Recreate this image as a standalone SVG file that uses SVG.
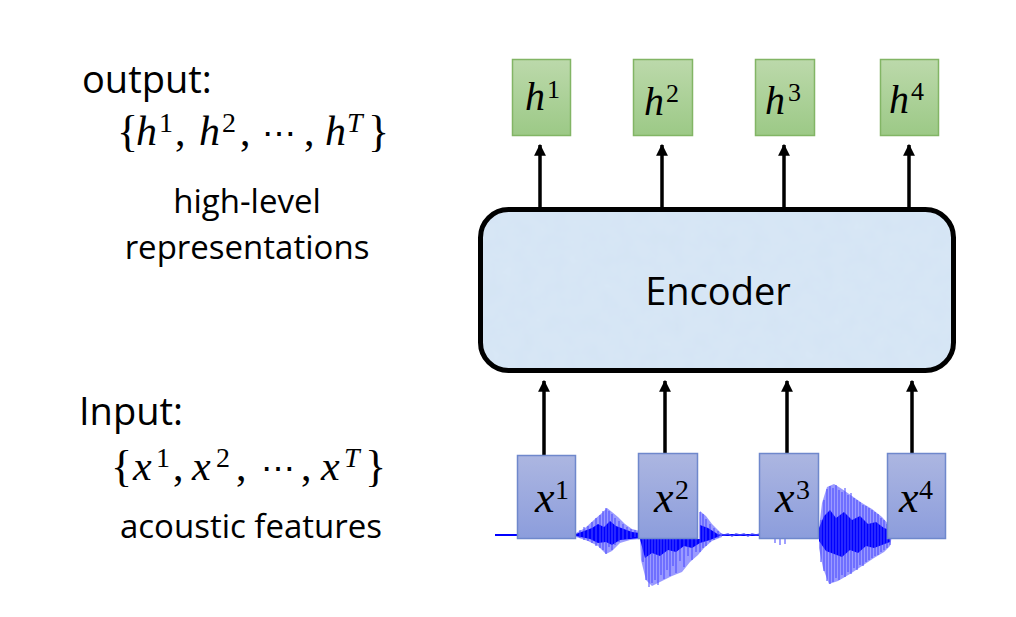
<svg xmlns="http://www.w3.org/2000/svg" width="1016" height="617" viewBox="0 0 1016 617">
<style>
.lbl{font-family:"Open Sans","Liberation Sans",sans-serif;fill:#000}
.m{font-family:"Liberation Serif","DejaVu Serif",serif;fill:#000}
.mi{font-family:"Liberation Serif","DejaVu Serif",serif;font-style:italic;fill:#000}
.hb{fill:url(#gG);stroke:#82b565;stroke-width:1.5}
.xb{fill:url(#gB);stroke:#6f88cc;stroke-width:1.5}
.conn{stroke:#000;stroke-width:3.5;fill:none}
</style>
<defs>
<linearGradient id="gG" x1="0" y1="0" x2="0" y2="1"><stop offset="0" stop-color="#bcd9ab"/><stop offset="1" stop-color="#9cc986"/></linearGradient>
<linearGradient id="gB" x1="0" y1="0" x2="0" y2="1"><stop offset="0" stop-color="#acb6e1"/><stop offset="1" stop-color="#8c9ddc"/></linearGradient>
<marker id="ah" viewBox="0 0 10 10" refX="9" refY="5" markerWidth="3.4" markerHeight="3.4" orient="auto" markerUnits="strokeWidth"><path d="M0,0 L10,5 L0,10 z" fill="#000"/></marker>
<filter id="tex" x="0" y="0" width="1" height="1"><feTurbulence type="fractalNoise" baseFrequency="0.06" numOctaves="3" seed="4"/><feColorMatrix type="matrix" values="0 0 0 0 0.75  0 0 0 0 0.85  0 0 0 0 0.95  0 0 0 0.35 0"/></filter>
<clipPath id="encClip"><rect x="480.5" y="209.5" width="473" height="161" rx="28"/></clipPath>
</defs>
<rect width="1016" height="617" fill="#fff"/>

<g id="left-text">
<text class="lbl" x="82" y="93" font-size="38">output:</text>
<text class="m" x="117" y="146" font-size="44">{</text>
<text class="mi" x="136" y="145" font-size="42">h</text><text class="m" x="159" y="132" font-size="28">1</text>
<text class="m" x="175" y="145" font-size="42">,</text>
<text class="mi" x="199" y="145" font-size="42">h</text><text class="m" x="222" y="132" font-size="28">2</text>
<text class="m" x="240" y="145" font-size="42">,</text>
<text class="m" x="262" y="145" font-size="34">⋯</text>
<text class="m" x="304" y="145" font-size="42">,</text>
<text class="mi" x="325" y="145" font-size="42">h</text><text class="mi" x="347" y="132" font-size="28">T</text>
<text class="m" x="368" y="146" font-size="44">}</text>
<text class="lbl" x="247" y="213" font-size="33" text-anchor="middle">high-level</text>
<text class="lbl" x="247" y="259" font-size="33" text-anchor="middle">representations</text>

<text class="lbl" x="79" y="425" font-size="38">Input:</text>
<text class="m" x="111" y="481" font-size="44">{</text>
<text class="mi" x="133" y="480" font-size="42">x</text><text class="m" x="156" y="467" font-size="28">1</text>
<text class="m" x="173" y="480" font-size="42">,</text>
<text class="mi" x="192" y="480" font-size="42">x</text><text class="m" x="216" y="467" font-size="28">2</text>
<text class="m" x="236" y="480" font-size="42">,</text>
<text class="m" x="261" y="480" font-size="34">⋯</text>
<text class="m" x="301" y="480" font-size="42">,</text>
<text class="mi" x="321" y="480" font-size="42">x</text><text class="mi" x="344" y="467" font-size="28">T</text>
<text class="m" x="365" y="481" font-size="44">}</text>
<text class="lbl" x="251" y="538" font-size="33" text-anchor="middle">acoustic features</text>
</g>

<g id="waveform">
<path d="M495,535 H520 M715,535 H765" stroke="#0000ff" stroke-width="2" fill="none"/>
<path d="M720,534 l4,1 l4,-1 l4,2 l4,-2 l4,1 l4,-1 l4,2 l4,-2 l4,1 l4,-1 l6,1" stroke="#3b3bff" stroke-width="1.5" fill="none"/>
<polygon fill="#6f6fff" opacity="0.7" points="576,533 585,528 595,519 603,512 607,508 612,512 618,517 625,524 632,529 640,531 640,539 630,540 620,543 612,551 606,554 598,546 588,541 576,537"/>
<polygon fill="#0000ff" points="576,534 584,531 592,528 598,524 604,527 610,521 616,526 624,529 632,532 640,533 640,538 630,539 620,540 612,545 606,542 598,543 590,539 576,536"/>
<polygon fill="#6f6fff" opacity="0.7" points="640,539 700,539 700,511 706,516 712,524 718,530 722,534 722,537 712,541 704,548 698,555 690,562 682,572 672,576 660,582 652,586 646,580 641,560"/>
<polygon fill="#0000ff" points="640,539 700,539 700,525 708,528 716,533 720,536 710,540 700,543 692,548 684,546 676,552 668,550 660,556 652,553 645,558"/>
<polygon fill="#6f6fff" opacity="0.7" points="819,528 822,503 827,487 834,484 842,489 852,496 862,503 872,509 882,517 890,526 892,536 890,546 884,552 874,558 862,566 850,574 838,581 829,584 823,568 819,548"/>
<polygon fill="#0000ff" points="819,528 824,516 830,510 836,518 844,512 852,520 860,516 868,524 876,522 884,528 890,530 890,542 882,545 874,548 866,546 858,553 850,550 842,557 834,554 826,551 819,541"/>
<path stroke="#4a4aff" stroke-width="1.3" fill="none" opacity="0.8" d="M580,530V538 M584,527V540 M588,526V541 M592,522V543 M596,518V546 M600,515V548 M603,511V550 M606,508V554 M609,511V547 M612,514V550 M615,518V545 M619,521V542 M623,524V540 M627,527V539 M631,529V538 M635,530V537 M643,539V562 M646,539V580 M649,539V587 M652,539V583 M655,539V580 M658,539V585 M661,539V575 M664,539V579 M667,539V570 M670,539V576 M673,539V566 M676,539V573 M680,539V561 M684,539V567 M688,539V556 M692,539V560 M696,539V552 M700,512V552 M703,514V548 M706,519V546 M710,524V542 M714,528V540 M718,531V538 M775,539V543 M780,539V545 M785,539V544 M821,520V562 M824,500V571 M827,489V581 M830,486V584 M833,488V582 M836,485V578 M839,490V580 M842,492V575 M845,488V577 M848,495V572 M851,493V574 M854,498V568 M857,500V570 M860,502V565 M863,505V566 M866,506V562 M869,508V560 M872,510V558 M875,512V556 M878,514V555 M881,518V552 M884,520V550 M887,524V548 M890,527V545"/>
</g>

<g id="connectors">
<line class="conn" x1="540" y1="207" x2="540" y2="145" marker-end="url(#ah)"/>
<line class="conn" x1="662" y1="207" x2="662" y2="145" marker-end="url(#ah)"/>
<line class="conn" x1="784" y1="207" x2="784" y2="145" marker-end="url(#ah)"/>
<line class="conn" x1="909" y1="207" x2="909" y2="145" marker-end="url(#ah)"/>
<line class="conn" x1="544" y1="455" x2="544" y2="381" marker-end="url(#ah)"/>
<line class="conn" x1="665" y1="453" x2="665" y2="381" marker-end="url(#ah)"/>
<line class="conn" x1="787" y1="453" x2="787" y2="381" marker-end="url(#ah)"/>
<line class="conn" x1="912" y1="453" x2="912" y2="381" marker-end="url(#ah)"/>
</g>

<g id="encoder">
<rect x="480.5" y="209.5" width="473" height="161" rx="28" fill="#d4e4f4"/>
<rect x="480.5" y="209.5" width="473" height="161" filter="url(#tex)" clip-path="url(#encClip)"/>
<rect x="480.5" y="209.5" width="473" height="161" rx="28" fill="none" stroke="#000" stroke-width="5"/>
<text class="lbl" x="718" y="305" font-size="38" text-anchor="middle">Encoder</text>
</g>

<g id="h1"><rect class="hb" x="512.5" y="59.5" width="58" height="76"/><text class="mi" x="525" y="110" font-size="40">h</text><text class="m" x="547" y="98" font-size="26">1</text></g>
<g id="h2"><rect class="hb" x="633.5" y="59.5" width="59" height="76"/><text class="mi" x="644" y="115" font-size="40">h</text><text class="m" x="666" y="102" font-size="26">2</text></g>
<g id="h3"><rect class="hb" x="755.5" y="59.5" width="59" height="76"/><text class="mi" x="765" y="114" font-size="40">h</text><text class="m" x="788" y="101" font-size="26">3</text></g>
<g id="h4"><rect class="hb" x="880.5" y="59.5" width="58" height="76"/><text class="mi" x="889" y="113" font-size="40">h</text><text class="m" x="911" y="100" font-size="26">4</text></g>

<g id="x1"><rect class="xb" x="517.5" y="455.5" width="58" height="83"/><text class="mi" x="535" y="512" font-size="44">x</text><text class="m" x="555" y="499" font-size="28">1</text></g>
<g id="x2"><rect class="xb" x="638.5" y="453.5" width="59" height="85"/><text class="mi" x="654" y="512" font-size="44">x</text><text class="m" x="675" y="499" font-size="28">2</text></g>
<g id="x3"><rect class="xb" x="759.5" y="453.5" width="59" height="85"/><text class="mi" x="775" y="512" font-size="44">x</text><text class="m" x="796" y="499" font-size="28">3</text></g>
<g id="x4"><rect class="xb" x="887.5" y="453.5" width="58" height="85"/><text class="mi" x="899" y="512" font-size="44">x</text><text class="m" x="919" y="499" font-size="28">4</text></g>
</svg>
